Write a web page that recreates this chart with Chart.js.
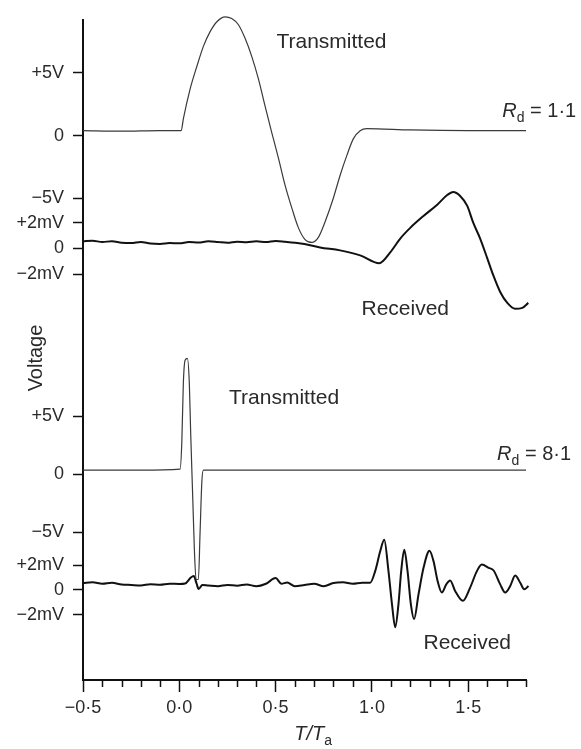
<!DOCTYPE html>
<html>
<head>
<meta charset="utf-8">
<script src="https://cdn.jsdelivr.net/npm/chart.js@4.4.1/dist/chart.umd.min.js"></script>
<style>
  html, body { margin: 0; padding: 0; background: #fff; }
</style>
</head>
<body>
<canvas id="pulseChart" width="581" height="749"></canvas>
<script>
// x axis: T/Ta
var xTickValues = [-0.5, 0, 0.5, 1, 1.5];
var xTickLabels = ['\u22120\u00b75', '0\u00b70', '0\u00b75', '1\u00b70', '1\u00b75'];

// voltage tick marks of each trace
var voltTicks = [5, 0, -5];
var voltTickLabels = ['+5V', '0', '\u22125V'];
var milliTicks = [2, 0, -2];
var milliTickLabels = ['+2mV', '0', '\u22122mV'];

// Rd = 1.1, transmitted (V)
var tx1Time = [-0.5, -0.3, -0.1, 0.01, 0.021, 0.056, 0.091, 0.125, 0.16, 0.195, 0.238, 0.272, 0.307, 0.342,
  0.376, 0.411, 0.445, 0.48, 0.515, 0.549, 0.584, 0.618, 0.653, 0.688, 0.722, 0.757, 0.8, 0.835, 0.87,
  0.904, 0.939, 0.974, 1.2, 1.5, 1.8];
var tx1Volts = [0.4, 0.35, 0.4, 0.4, 1.34, 3.7, 5.5, 7.1, 8.27, 9.06, 9.45, 9.31, 8.82, 7.72,
  6.3, 4.49, 2.36, 0.24, -1.81, -3.94, -5.75, -7.32, -8.27, -8.5, -8.1, -6.85, -4.96, -3.15, -1.57,
  -0.24, 0.39, 0.55, 0.45, 0.4, 0.4];

// Rd = 1.1, received (mV)
var rx1Time = [-0.5, -0.45, -0.4, -0.35, -0.3, -0.25, -0.2, -0.15, -0.1, -0.05, 0, 0.05, 0.1, 0.15, 0.2,
  0.25, 0.3, 0.35, 0.4, 0.45, 0.5, 0.55, 0.6, 0.65, 0.731, 0.835, 0.939, 1.038, 1.095, 1.147, 1.199,
  1.266, 1.339, 1.391, 1.422, 1.458, 1.495, 1.526, 1.562, 1.599, 1.63, 1.666, 1.703, 1.744, 1.781, 1.812];
var rx1Milli = [0.55, 0.6, 0.5, 0.56, 0.45, 0.42, 0.5, 0.38, 0.35, 0.42, 0.4, 0.5, 0.46, 0.55, 0.5,
  0.44, 0.52, 0.48, 0.55, 0.5, 0.58, 0.52, 0.45, 0.35, 0.08, -0.15, -0.54, -1.15, -0.31, 0.77, 1.6,
  2.5, 3.4, 4.15, 4.38, 4.08, 3.31, 2.0, 0.77, -0.77, -2.08, -3.38, -4.23, -4.69, -4.62, -4.23];

// Rd = 8.1, transmitted (V)
var tx2Time = [-0.5, -0.2, 0.004, 0.013, 0.021, 0.03, 0.042, 0.052, 0.059, 0.07, 0.078, 0.087, 0.099,
  0.108, 0.117, 0.125, 0.4, 0.8, 1.2, 1.5, 1.8];
var tx2Volts = [0.34, 0.34, 0.43, 2.74, 7.86, 9.83, 10.0, 7.86, 3.59, -2.14, -6.41, -9.1, -9.1,
  -4.96, -0.68, 0.34, 0.34, 0.34, 0.34, 0.34, 0.34];

// Rd = 8.1, received (mV)
var rx2Time = [-0.5, -0.45, -0.4, -0.35, -0.3, -0.25, -0.2, -0.15, -0.1, -0.05, 0, 0.03, 0.06, 0.075,
  0.09, 0.1, 0.12, 0.15, 0.2, 0.25, 0.3, 0.35, 0.4, 0.45, 0.5, 0.53, 0.56, 0.6, 0.65, 0.7, 0.75, 0.8,
  0.85, 0.9, 0.95, 0.991, 1.017, 1.043, 1.064, 1.086, 1.104, 1.121, 1.138, 1.152, 1.168, 1.185, 1.202,
  1.219, 1.242, 1.268, 1.299, 1.32, 1.341, 1.363, 1.386, 1.406, 1.432, 1.472, 1.51, 1.545, 1.571,
  1.606, 1.632, 1.666, 1.692, 1.718, 1.744, 1.77, 1.791, 1.813];
var rx2Milli = [0.56, 0.62, 0.5, 0.58, 0.44, 0.4, 0.36, 0.46, 0.42, 0.5, 0.48, 0.52, 1.0, 1.12,
  0.5, 0.08, 0.4, 0.36, 0.3, 0.4, 0.34, 0.44, 0.3, 0.5, 0.96, 0.5, 0.6, 0.3, 0.4, 0.5, 0.3, 0.56,
  0.62, 0.5, 0.58, 0.58, 1.52, 3.12, 4.06, 1.52, -1.12, -3.01, -1.12, 1.52, 3.25, 1.52, -1.12,
  -2.35, -0.35, 1.79, 3.17, 2.32, 0.72, -0.21, 0.45, 0.77, -0.08, -0.88, 0.19, 1.52, 2.05,
  1.79, 1.57, 0.45, -0.21, 0.32, 1.17, 0.58, 0.05, 0.32];

// where each trace sits on the shared display axis (0 = time axis, 667 = top)
var traces = [
  { time: tx1Time, values: tx1Volts, zero: 550, gain: 12.7, ticks: voltTicks, tickText: voltTickLabels, color: '#3a3a3a', width: 1.2 },
  { time: rx1Time, values: rx1Milli, zero: 436, gain: 13, ticks: milliTicks, tickText: milliTickLabels, color: '#111', width: 2 },
  { time: tx2Time, values: tx2Volts, zero: 208, gain: 11.7, ticks: voltTicks, tickText: voltTickLabels, color: '#3a3a3a', width: 1.2 },
  { time: rx2Time, values: rx2Milli, zero: 91, gain: 12.5, ticks: milliTicks, tickText: milliTickLabels, color: '#111', width: 2 }
];

var yTickPos = [];
var yTickText = [];
traces.forEach(function (tr) {
  tr.ticks.forEach(function (v, i) {
    yTickPos.push(tr.zero + v * tr.gain);
    yTickText.push(tr.tickText[i]);
  });
});

var notes = [
  { text: 'Transmitted', t: 0.79, d: 644 },
  { text: 'Received', t: 1.173, d: 375 },
  { text: 'Transmitted', t: 0.544, d: 285 },
  { text: 'Received', t: 1.495, d: 37 }
];
var rdNotes = [
  { value: '1\u00b71', t: 1.677, d: 569 },
  { value: '8\u00b71', t: 1.65, d: 222 }
];

function isMajor(v) {
  return xTickValues.some(function (m) { return Math.abs(m - v) < 1e-6; });
}

var FONT = '"Liberation Sans", Arial, sans-serif';
Chart.defaults.font.family = FONT;
Chart.defaults.color = '#2a2a2a';

var annotate = {
  id: 'annotate',
  afterDraw: function (chart) {
    var c = chart.ctx, xs = chart.scales.x, ys = chart.scales.y;
    c.save();
    // short minor ticks on the time axis
    c.strokeStyle = '#111';
    c.lineWidth = 1.5;
    xs.ticks.forEach(function (tk) {
      if (isMajor(tk.value)) return;
      var px = Math.round(xs.getPixelForValue(tk.value)) + 0.5;
      c.beginPath();
      c.moveTo(px, xs.top);
      c.lineTo(px, xs.top + 7);
      c.stroke();
    });

    c.fillStyle = '#2a2a2a';
    c.textAlign = 'center';
    c.textBaseline = 'middle';
    c.font = '21px ' + FONT;
    notes.forEach(function (n) {
      c.fillText(n.text, xs.getPixelForValue(n.t), ys.getPixelForValue(n.d));
    });

    c.textAlign = 'left';
    c.textBaseline = 'alphabetic';
    rdNotes.forEach(function (n) {
      var x = xs.getPixelForValue(n.t), y = ys.getPixelForValue(n.d);
      c.font = 'italic 20px ' + FONT;
      c.fillText('R', x, y);
      x += c.measureText('R').width;
      c.font = '14px ' + FONT;
      c.fillText('d', x, y + 5);
      x += c.measureText('d').width;
      c.font = '20px ' + FONT;
      c.fillText(' = ' + n.value, x, y);
    });

    // axis titles
    c.font = 'italic 20px ' + FONT;
    var w1 = c.measureText('T/T').width;
    c.font = '14px ' + FONT;
    var w2 = c.measureText('a').width;
    var tx = xs.getPixelForValue(0.695) - (w1 + w2) / 2;
    c.font = 'italic 20px ' + FONT;
    c.fillText('T/T', tx, 740);
    c.font = '14px ' + FONT;
    c.fillText('a', tx + w1, 745);

    c.translate(36, 358);
    c.rotate(-Math.PI / 2);
    c.textAlign = 'center';
    c.textBaseline = 'middle';
    c.font = '20px ' + FONT;
    c.fillText('Voltage', 0, 0);
    c.restore();
  }
};

var ctx = document.getElementById('pulseChart').getContext('2d');
var pulseChart = new Chart(ctx, {
  type: 'line',
  data: {
    datasets: traces.map(function (tr) {
      return {
        data: tr.time.map(function (t, i) { return { x: t, y: tr.zero + tr.values[i] * tr.gain }; }),
        borderColor: tr.color,
        borderWidth: tr.width,
        pointRadius: 0,
        fill: false,
        cubicInterpolationMode: 'monotone',
        clip: false
      };
    })
  },
  options: {
    responsive: false,
    animation: false,
    layout: { padding: { top: 13, right: 55, bottom: 0, left: 0 } },
    plugins: { legend: { display: false }, tooltip: { enabled: false } },
    scales: {
      x: {
        type: 'linear',
        min: -0.5,
        max: 1.8,
        afterFit: function (s) { s.height = 69; },
        border: { color: '#111', width: 2 },
        grid: {
          drawOnChartArea: false,
          tickLength: 12,
          tickWidth: 1.5,
          tickColor: function (c) { return c.tick && isMajor(c.tick.value) ? '#111' : 'rgba(0,0,0,0)'; }
        },
        ticks: {
          stepSize: 0.1,
          autoSkip: false,
          maxRotation: 0,
          padding: 5,
          font: { size: 18 },
          callback: function (v) {
            for (var i = 0; i < xTickValues.length; i++) {
              if (Math.abs(xTickValues[i] - v) < 1e-6) return xTickLabels[i];
            }
            return '';
          }
        }
      },
      y: {
        type: 'linear',
        min: 0,
        max: 667,
        afterFit: function (s) { s.width = 83; },
        afterBuildTicks: function (s) {
          s.ticks = yTickPos.map(function (p) { return { value: p }; });
        },
        border: { color: '#111', width: 2 },
        grid: { drawOnChartArea: false, tickLength: 10, tickWidth: 1.5, tickColor: '#111' },
        ticks: {
          autoSkip: false,
          padding: 9,
          font: { size: 18 },
          callback: function (v, i) { return yTickText[i]; }
        }
      }
    }
  },
  plugins: [annotate]
});
</script>
</body>
</html>
